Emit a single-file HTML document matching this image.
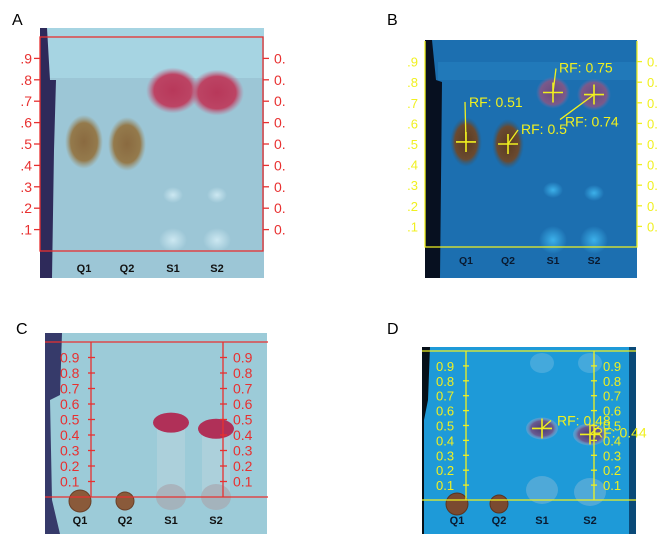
<!DOCTYPE html>
<html><head><meta charset="utf-8"><style>
html,body{margin:0;padding:0;background:#fff;width:666px;height:534px;overflow:hidden}
svg{display:block;font-family:"Liberation Sans",sans-serif}
</style></head><body>
<svg id="fig" width="666" height="534" viewBox="0 0 666 534" xmlns="http://www.w3.org/2000/svg">
<defs>
<radialGradient id="redSpot"><stop offset="0" stop-color="#b8385a"/><stop offset="0.7" stop-color="#bc4464"/><stop offset="1" stop-color="#c07090" stop-opacity="0"/></radialGradient>
<radialGradient id="brownSpot"><stop offset="0" stop-color="#8a6a40"/><stop offset="0.7" stop-color="#947a4c"/><stop offset="1" stop-color="#9a9070" stop-opacity="0"/></radialGradient>
<radialGradient id="bRed"><stop offset="0" stop-color="#6a4a80"/><stop offset="0.75" stop-color="#7a5a8a"/><stop offset="1" stop-color="#5a70b0" stop-opacity="0"/></radialGradient>
<radialGradient id="bBrown"><stop offset="0" stop-color="#5a3a20"/><stop offset="0.7" stop-color="#6a4a30"/><stop offset="1" stop-color="#2a5a80" stop-opacity="0"/></radialGradient>
<radialGradient id="dPurple"><stop offset="0" stop-color="#4a3a70"/><stop offset="0.7" stop-color="#6a5a90"/><stop offset="1" stop-color="#a0b0d0" stop-opacity="0.3"/></radialGradient>
<radialGradient id="glow"><stop offset="0" stop-color="#d8f0f8" stop-opacity="0.8"/><stop offset="1" stop-color="#d8f0f8" stop-opacity="0"/></radialGradient>
<radialGradient id="bglow"><stop offset="0" stop-color="#40b8f0" stop-opacity="0.9"/><stop offset="1" stop-color="#40b8f0" stop-opacity="0"/></radialGradient>
</defs>

<g>
<text x="12" y="25" font-size="16" fill="#000">A</text>
<rect x="40" y="28" width="224" height="250" fill="#9cc6d6"/>
<rect x="40" y="28" width="224" height="50" fill="#a6d4e2"/>
<path d="M40 28 L47 28 L50 80 L56 80 L54 150 L52 278 L40 278 Z" fill="#2e2a5a"/>
<ellipse cx="173" cy="240" rx="14" ry="12" fill="url(#glow)"/>
<ellipse cx="217" cy="240" rx="14" ry="12" fill="url(#glow)"/>
<ellipse cx="173" cy="195" rx="10" ry="8" fill="url(#glow)"/>
<ellipse cx="217" cy="195" rx="10" ry="8" fill="url(#glow)"/>
<g id="spotsA"></g>
<g id="axisA"></g>
</g>

<g>
<text x="387" y="25" font-size="16" fill="#000">B</text>
<rect x="425" y="40" width="212" height="238" fill="#1c6fb0"/>
<rect x="438" y="62" width="199" height="18" fill="#2a8ccc" opacity="0.35"/>
<path d="M425 40 L432 40 L436 80 L442 82 L440 278 L425 278 Z" fill="#071020"/>
<ellipse cx="553" cy="240" rx="14" ry="14" fill="url(#bglow)"/>
<ellipse cx="594" cy="240" rx="14" ry="14" fill="url(#bglow)"/>
<ellipse cx="553" cy="190" rx="10" ry="8" fill="url(#bglow)"/>
<ellipse cx="594" cy="193" rx="10" ry="8" fill="url(#bglow)"/>
<g id="spotsB"></g>
<g id="axisB"></g>
</g>

<g>
<text x="16" y="334" font-size="16" fill="#000">C</text>
<rect x="45" y="333" width="222" height="201" fill="#9ccbd8"/>
<path d="M45 333 L62 333 L60 395 L50 400 L52 500 L60 534 L45 534 Z" fill="#363a6a"/>
<g id="spotsC"></g>
<g id="axisC"></g>
</g>

<g>
<text x="387" y="334" font-size="16" fill="#000">D</text>
<rect x="422" y="347" width="214" height="187" fill="#1e9ad8"/>
<rect x="629" y="347" width="7" height="187" fill="#0a4a78"/>
<path d="M422 347 L430 347 L428 400 L424 420 L424 534 L422 534 Z" fill="#061018"/>
<ellipse cx="542" cy="363" rx="12" ry="10" fill="#6ab8e0" opacity="0.5"/>
<ellipse cx="590" cy="363" rx="12" ry="10" fill="#6ab8e0" opacity="0.5"/>
<ellipse cx="542" cy="490" rx="16" ry="14" fill="#80b8d8" opacity="0.5"/>
<ellipse cx="590" cy="492" rx="16" ry="14" fill="#80b8d8" opacity="0.5"/>
<g id="spotsD"></g>
<g id="axisD"></g>
</g>
</svg>
<script>
const lanes = ['Q1','Q2','S1','S2'];
const ticks = [0.1,0.2,0.3,0.4,0.5,0.6,0.7,0.8,0.9];
const tickLabelsShort = ['.1','.2','.3','.4','.5','.6','.7','.8','.9'];
const tickLabelsLong = ['0.1','0.2','0.3','0.4','0.5','0.6','0.7','0.8','0.9'];
const rfA = [0.51, 0.50, 0.75, 0.74];
const rfB = [0.51, 0.50, 0.75, 0.74];
const rfC = [0.00, 0.00, 0.48, 0.44];
const rfD = [0.00, 0.00, 0.48, 0.44];
const rfLabelsB = ['RF: 0.51','RF: 0.5','RF: 0.75','RF: 0.74'];
const rfLabelsD = ['RF: 0.48','RF: 0.44'];

const NS = 'http://www.w3.org/2000/svg';
function mk(parent, tag, attrs, txt){
  const e = document.createElementNS(NS, tag);
  for (const k in attrs) e.setAttribute(k, attrs[k]);
  if (txt !== undefined) e.textContent = txt;
  parent.appendChild(e);
  return e;
}
function yScale(y0, y1){ return v => y0 + (y1 - y0) * v; }

const A = {lx:[84,127,173,217], y:yScale(251,37), labelY:272};
const B = {lx:[466,508,553,594], y:yScale(247,41), labelY:264};
const C = {lx:[80,125,171,216], y:yScale(497,342), labelY:524};
const D = {lx:[457,499,542,590], y:yScale(500,351), labelY:524};

(function(){
  const g = document.getElementById('spotsA');
  lanes.forEach((ln,i)=>{
    const isS = i>=2;
    const s = mk(g,'ellipse',{cx:A.lx[i], cy:A.y(rfA[i]), rx:isS?27:19, ry:isS?23:27, fill:isS?'url(#redSpot)':'url(#brownSpot)'});
    
    
    const t = mk(g,'text',{x:A.lx[i], y:A.labelY, 'font-size':11, 'font-weight':'bold', 'text-anchor':'middle', fill:'#111'}, ln);
    
    
  });
  const ax = document.getElementById('axisA');
  const box = mk(ax,'rect',{x:40, y:A.y(1), width:223, height:A.y(0)-A.y(1), fill:'none', stroke:'#e83030', 'stroke-width':1.3});
  
  
  ticks.forEach((v,i)=>{
    const y = A.y(v);
    mk(ax,'line',{x1:34,x2:40,y1:y,y2:y,stroke:'#e83030','stroke-width':1.3});
    mk(ax,'line',{x1:263,x2:269,y1:y,y2:y,stroke:'#e83030','stroke-width':1.3});
    const l = mk(ax,'text',{x:32,y:y+5,'font-size':14,'text-anchor':'end',fill:'#e83030'}, tickLabelsShort[i]);
    
    
    const r = mk(ax,'text',{x:274,y:y+5,'font-size':14,fill:'#e83030'}, '0.');
    
    
  });
})();

(function(){
  const g = document.getElementById('spotsB');
  lanes.forEach((ln,i)=>{
    const isS = i>=2;
    const s = mk(g,'ellipse',{cx:B.lx[i], cy:B.y(rfB[i]), rx:isS?17:16, ry:isS?16:25, fill:isS?'url(#bRed)':'url(#bBrown)'});
    
    
    const t = mk(g,'text',{x:B.lx[i], y:B.labelY, 'font-size':10.5, 'font-weight':'bold', 'text-anchor':'middle', fill:'#0a1a30'}, ln);
    
    
  });
  const ax = document.getElementById('axisB');
  const Y = '#f0f020';
  mk(ax,'polyline',{points:`425,${B.y(1)} 425,${B.y(0)} 637,${B.y(0)} 637,${B.y(1)}`, fill:'none', stroke:Y, 'stroke-width':1.3});
  ticks.forEach((v,i)=>{
    const y = B.y(v);
    mk(ax,'line',{x1:637,x2:642,y1:y,y2:y,stroke:Y,'stroke-width':1.3});
    const l = mk(ax,'text',{x:418,y:y+5,'font-size':13,'text-anchor':'end',fill:Y}, tickLabelsShort[i]);
    
    
    const r = mk(ax,'text',{x:647,y:y+5,'font-size':13,fill:Y}, '0.');
    
    
  });
  const offs = [[-1,-40,3,-35],[10,-14,13,-10],[3,-24,6,-20],[-34,25,-29,32]];
  lanes.forEach((ln,i)=>{
    const cx = B.lx[i], cy = B.y(rfB[i]);
    const c = mk(ax,'path',{d:`M${cx-10} ${cy}H${cx+10}M${cx} ${cy-10}V${cy+10}`, stroke:Y,'stroke-width':1.6});
    
    
    const o = offs[i];
    mk(ax,'line',{x1:cx,y1:cy,x2:cx+o[0],y2:cy+o[1],stroke:Y,'stroke-width':1.3});
    const t = mk(ax,'text',{x:cx+o[2],y:cy+o[3],'font-size':14,fill:Y}, rfLabelsB[i]);
    
    
  });
})();

(function(){
  const g = document.getElementById('spotsC');
  lanes.forEach((ln,i)=>{
    const isS = i>=2;
    if (isS) {
      mk(g,'rect',{x:C.lx[i]-14,y:C.y(rfC[i])+6,width:28,height:C.y(0)-C.y(rfC[i])-6,fill:'#c0d8e0',opacity:0.45});
      mk(g,'ellipse',{cx:C.lx[i],cy:C.y(0),rx:15,ry:13,fill:'#a8a8b0',opacity:0.7});
      const s = mk(g,'ellipse',{cx:C.lx[i], cy:C.y(rfC[i]), rx:18, ry:10, fill:'#b03058'});
      
      
    } else {
      const s = mk(g,'circle',{cx:C.lx[i], cy:C.y(rfC[i])+4, r:i===0?11:9, fill:'#8a5a3a', stroke:'#6a4028'});
      
      
    }
    const t = mk(g,'text',{x:C.lx[i], y:C.labelY, 'font-size':11, 'font-weight':'bold', 'text-anchor':'middle', fill:'#111'}, ln);
    
    
  });
  const ax = document.getElementById('axisC');
  const R = '#e83030';
  mk(ax,'line',{x1:45,x2:268,y1:C.y(1),y2:C.y(1),stroke:R,'stroke-width':1.3});
  mk(ax,'line',{x1:45,x2:268,y1:C.y(0),y2:C.y(0),stroke:R,'stroke-width':1.3});
  [91,223].forEach(x=>mk(ax,'line',{x1:x,x2:x,y1:C.y(1),y2:C.y(0),stroke:R,'stroke-width':1.3}));
  ticks.forEach((v,i)=>{
    const y = C.y(v);
    mk(ax,'line',{x1:88,x2:95,y1:y,y2:y,stroke:R,'stroke-width':1.3});
    mk(ax,'line',{x1:220,x2:227,y1:y,y2:y,stroke:R,'stroke-width':1.3});
    const l = mk(ax,'text',{x:60,y:y+5,'font-size':14,fill:R}, tickLabelsLong[i]);
    
    
    const r = mk(ax,'text',{x:233,y:y+5,'font-size':14,fill:R}, tickLabelsLong[i]);
    
    
  });
})();

(function(){
  const g = document.getElementById('spotsD');
  lanes.forEach((ln,i)=>{
    const isS = i>=2;
    if (isS) {
      const s = mk(g,'ellipse',{cx:D.lx[i], cy:D.y(rfD[i]), rx:i===2?16:17, ry:11, fill:'url(#dPurple)'});
      
      
    } else {
      const s = mk(g,'circle',{cx:D.lx[i], cy:D.y(rfD[i])+4, r:i===0?11:9, fill:'#7a4a30', stroke:'#5a3420'});
      
      
    }
    const t = mk(g,'text',{x:D.lx[i], y:D.labelY, 'font-size':11, 'font-weight':'bold', 'text-anchor':'middle', fill:'#0a1a30'}, ln);
    
    
  });
  const ax = document.getElementById('axisD');
  const Y = '#f0f020';
  mk(ax,'line',{x1:422,x2:636,y1:D.y(1),y2:D.y(1),stroke:Y,'stroke-width':1.3});
  mk(ax,'line',{x1:422,x2:636,y1:D.y(0),y2:D.y(0),stroke:Y,'stroke-width':1.3});
  [466,594].forEach(x=>mk(ax,'line',{x1:x,x2:x,y1:D.y(1),y2:D.y(0),stroke:Y,'stroke-width':1.3}));
  ticks.forEach((v,i)=>{
    const y = D.y(v);
    mk(ax,'line',{x1:463,x2:469,y1:y,y2:y,stroke:Y,'stroke-width':1.3});
    mk(ax,'line',{x1:591,x2:597,y1:y,y2:y,stroke:Y,'stroke-width':1.3});
    const l = mk(ax,'text',{x:436,y:y+5,'font-size':13,fill:Y}, tickLabelsLong[i]);
    
    
    const r = mk(ax,'text',{x:603,y:y+5,'font-size':13,fill:Y}, tickLabelsLong[i]);
    
    
  });
  [2,3].forEach((li,k)=>{
    const cx = D.lx[li], cy = D.y(rfD[li]);
    const c = mk(ax,'path',{d:`M${cx-10} ${cy}H${cx+10}M${cx} ${cy-10}V${cy+10}`, stroke:Y,'stroke-width':1.6});
    
    
    mk(ax,'line',{x1:cx,y1:cy,x2:cx+9,y2:cy-8,stroke:Y,'stroke-width':1.3});
    const t = mk(ax,'text',{x:cx+(k===0?15:3),y:cy-(k===0?3:-3),'font-size':14,fill:Y}, rfLabelsD[k]);
    
    
  });
})();
</script>
</body></html>
